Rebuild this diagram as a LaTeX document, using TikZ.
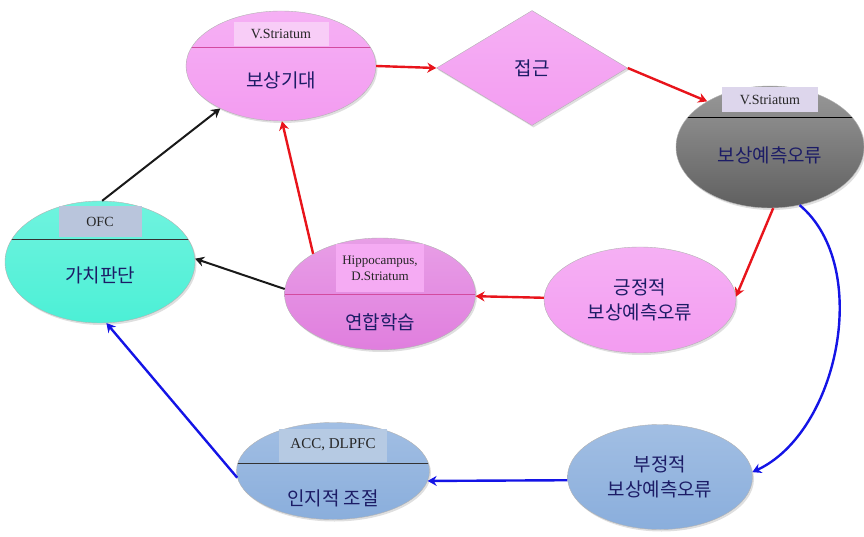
\documentclass[tikz,border=0pt]{standalone}
\usepackage{fontspec}
\setmainfont{Liberation Serif}
\newfontfamily\kr{Noto Sans CJK KR}
\usetikzlibrary{shapes.geometric,arrows.meta,shadows,positioning}

\definecolor{pinkfill}{HTML}{F39CF1}
\definecolor{pinkdark}{HTML}{E07EDE}
\definecolor{pinktag}{HTML}{F8CDF7}
\definecolor{grayfill}{HTML}{777777}
\definecolor{graytag}{HTML}{DDD6EC}
\definecolor{tealfill}{HTML}{4CF0D6}
\definecolor{tealtag}{HTML}{B9C5DC}
\definecolor{bluefill}{HTML}{8AAEDC}
\definecolor{bluetag}{HTML}{B6CAE3}
\definecolor{navy}{HTML}{1C1C66}
\definecolor{redline}{HTML}{E8141B}
\definecolor{blueline}{HTML}{1414E6}

\tikzset{
  area/.style 2 args={ellipse, minimum width=#1pt, minimum height=#2pt, inner sep=0pt,
    draw=white!70!black, line width=0.4pt, align=center, text=navy,
    font=\kr\fontsize{19}{25}\selectfont,
    drop shadow={opacity=0.25, shadow xshift=1.5pt, shadow yshift=-2pt}},
  cut/.style 2 args={path picture={\draw[#2, line width=1pt]
      ([yshift=#1pt]path picture bounding box.west) -- ([yshift=#1pt]path picture bounding box.east);}},
  tag/.style={fill=#1, inner sep=0pt, align=center, text=black!85, font=\fontsize{14}{15}\selectfont},
  word/.style={text=navy, font=\kr\fontsize{19}{23}\selectfont},
  redarrow/.style={draw=redline, line width=2.4pt, -{Stealth[length=9pt,width=10pt]}},
  bluearrow/.style={draw=blueline, line width=2.4pt, -{Stealth[length=9pt,width=10pt]}},
  blackarrow/.style={draw=black!90, line width=2pt, -{Stealth[length=9pt,width=10pt]}}
}

\begin{document}
\begin{tikzpicture}[x=1pt, y=1pt]
  \useasboundingbox (0,0) rectangle (864,536);

  % ellipses and the diamond
  \node[area={190}{110}, top color=pinkfill!80!white, bottom color=pinkfill, cut={18}{pinkdark!60!purple}] (reward) at (281,470) {};
  \node[diamond, minimum width=191pt, minimum height=115pt, inner sep=0pt, top color=pinkfill!80!white, bottom color=pinkfill,
    draw=white!70!black, text=navy, font=\kr\fontsize{19}{23}\selectfont,
    drop shadow={opacity=0.25, shadow xshift=1.5pt, shadow yshift=-2pt}] (approach) at (532,468) {접근};
  \node[area={188}{122}, top color=grayfill!75!white, bottom color=grayfill!80!black, cut={29}{black}] (rpe) at (770,389) {};
  \node[area={190}{122}, top color=tealfill!80!white, bottom color=tealfill, cut={22}{black!80}] (value) at (100,274) {};
  \node[area={191}{112}, top color=pinkdark!75!white, bottom color=pinkdark, cut={0}{pinkdark!60!purple}] (assoc) at (380,242) {};
  \node[area={192}{106}, top color=pinkfill!80!white, bottom color=pinkfill] (pos) at (640,236) {긍정적\\보상예측오류};
  \node[area={193}{97}, top color=bluefill!80!white, bottom color=bluefill, cut={8}{black!80}] (control) at (333,65) {};
  \node[area={185}{105}, top color=bluefill!80!white, bottom color=bluefill] (neg) at (660,59) {부정적\\보상예측오류};

  % region labels
  \node[tag=pinktag, minimum width=95pt, minimum height=24pt] (vs1) at ([yshift=32pt]reward.center) {V.Striatum};
  \node[tag=graytag, minimum width=96pt, minimum height=25pt] (vs2) at ([yshift=47pt]rpe.center) {V.Striatum};
  \node[tag=tealtag, minimum width=83pt, minimum height=31pt] (ofc) at ([yshift=40pt]value.center) {OFC};
  \node[tag=pinkfill!85!white, minimum width=88pt, minimum height=47pt, font=\fontsize{13}{16}\selectfont] (hip) at ([yshift=26pt]assoc.center) {Hippocampus,\\D.Striatum};
  \node[tag=bluetag, minimum width=108pt, minimum height=33pt, font=\fontsize{15}{16}\selectfont] (acc) at ([yshift=26pt]control.center) {ACC, DLPFC};

  % main words
  \node[word] (reward-t) at ([yshift=-14pt]reward.center) {보상기대};
  \node[word] (rpe-t) at ([yshift=-8pt]rpe.center) {보상예측오류};
  \node[word] (value-t) at ([yshift=-13pt]value.center) {가치판단};
  \node[word] (assoc-t) at ([yshift=-28pt]assoc.center) {연합학습};
  \node[word] (control-t) at ([yshift=-27pt]control.center) {인지적 조절};

  % connectors
  \draw[blackarrow] (value.88) -- (reward.215);
  \draw[redarrow] (assoc.149) -- (reward.271);
  \draw[blackarrow] (assoc.177) -- (value.2);
  \draw[redarrow] (reward.east) -- (approach.west);
  \draw[redarrow] (approach.east) -- (rpe.144);
  \draw[redarrow] (rpe.273) -- (pos.2);
  \draw[redarrow] (pos) -- (assoc);
  \draw[bluearrow] (rpe.-63) to[out=-40, in=25, looseness=0.9] (neg.3);
  \draw[bluearrow] (neg.182) -- (control.-6);
  \draw[bluearrow] (control.184) -- (value.276);
\end{tikzpicture}
\end{document}
